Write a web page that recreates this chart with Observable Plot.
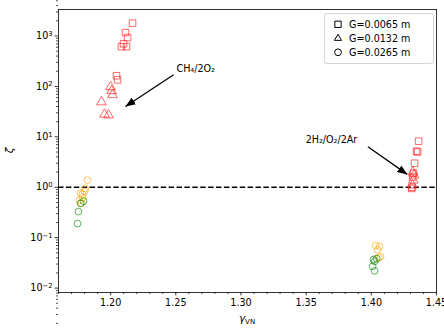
<!DOCTYPE html>
<html>
<head>
<meta charset="utf-8">
<script src="https://cdn.jsdelivr.net/npm/d3@7"></script>
<script src="https://cdn.jsdelivr.net/npm/@observablehq/plot@0.6"></script>
<style>
  body { margin: 0; background: #fff; }
  #chart { position: relative; width: 444px; height: 329px; font-family: "DejaVu Sans", sans-serif; }
  #legend {
    position: absolute; left: 324px; top: 13px; width: 110px;
    border: 1px solid #d4d4d4; border-radius: 3px; background: rgba(255,255,255,0.85);
    box-sizing: border-box; padding: 3px 0 4px 0;
    font-family: "DejaVu Sans", sans-serif; font-size: 9.6px; color: #000;
  }
  #legend .row { display: flex; align-items: center; height: 14px; }
  #legend svg { margin-left: 8px; margin-right: 6px; }
</style>
</head>
<body>
<div id="chart"></div>
<script>
// Growth rate ratio zeta against the von Neumann specific heat ratio, by gap size G.
// G = 0.0065 m (squares, red)
const sqGamma = [1.2168, 1.2114, 1.2130, 1.2099, 1.2083, 1.2122, 1.2045, 1.2053,
                 1.4363, 1.4347, 1.4355, 1.4332, 1.4324, 1.4317, 1.4309, 1.4312];
const sqZeta  = [1800, 1170, 930, 700, 615, 615, 163, 135,
                 8.2, 5.2, 5.0, 3.0, 1.9, 1.6, 0.95, 1.0];
// G = 0.0132 m (triangles, red)
const triGamma = [1.1999, 1.2007, 1.2014, 1.1930, 1.1953, 1.1984,
                  1.4319, 1.4327, 1.4322, 1.4317];
const triZeta  = [98, 82, 68, 49, 28, 27,
                  2.0, 1.73, 1.38, 1.1];
// G = 0.0265 m (circles, orange and green)
const circOrangeGamma = [1.1823, 1.1807, 1.1800, 1.1784, 1.1769, 1.1784, 1.1761, 1.1777,
                         1.4033, 1.4064, 1.4048, 1.4071, 1.4056];
const circOrangeZeta  = [1.38, 0.95, 0.83, 0.73, 0.76, 0.63, 0.55, 0.48,
                         0.070, 0.067, 0.058, 0.042, 0.040];
const circGreenGamma = [1.1792, 1.1769, 1.1753, 1.1746,
                        1.4041, 1.4017, 1.4025, 1.4010, 1.4025];
const circGreenZeta  = [0.53, 0.48, 0.33, 0.19,
                        0.0385, 0.037, 0.034, 0.027, 0.022];

// Axis ticks
const xTicks = [1.20, 1.25, 1.30, 1.35, 1.40, 1.45];
const xMinor = d3.range(116, 146).map(v => v / 100).filter(v => !xTicks.some(t => Math.abs(t - v) < 1e-9));
const yTicks = [1e-2, 1e-1, 1e0, 1e1, 1e2, 1e3];
const yMinor = [];
for (let e = -3; e <= 3; e++) for (let k = 2; k <= 9; k++) yMinor.push(k * 10 ** e);

// Annotations: label position and arrow from (x1,y1) to (x2,y2)
const notes = [
  {x: 1.2505, y: 190, text: "CH₄/2O₂", x1: 1.2483, y1: 170, x2: 1.2114, y2: 40},
  {x: 1.3496, y: 7.5, text: "2H₂/O₂/2Ar", x1: 1.3974, y1: 6.35, x2: 1.4276, y2: 1.8}
];

const legendItems = [
  {symbol: "square", label: "G=0.0065 m"},
  {symbol: "triangle", label: "G=0.0132 m"},
  {symbol: "circle", label: "G=0.0265 m"}
];

const toRows = (xs, ys) => xs.map((x, i) => ({x, y: ys[i]}));
const squares = toRows(sqGamma, sqZeta);
const triangles = toRows(triGamma, triZeta);
const orangeCircles = toRows(circOrangeGamma, circOrangeZeta);
const greenCircles = toRows(circGreenGamma, circGreenZeta);

const RED = "#ff2020", ORANGE = "#ffa500", GREEN = "#008000";

// Filled wedge head for annotation arrows
function wedge(color) {
  const m = d3.create("svg:marker")
    .attr("viewBox", "-10 -4 10 8")
    .attr("markerUnits", "userSpaceOnUse")
    .attr("markerWidth", 10).attr("markerHeight", 8)
    .attr("refX", 0).attr("refY", 0)
    .attr("orient", "auto");
  m.append("path").attr("d", "M-10,-4L0,0L-10,4Z").attr("fill", color).attr("stroke", "none");
  return m.node();
}

const expLabel = d => "10^" + String(Math.round(Math.log10(d))).replace("-", "−");

function build(markerEnd) {
  return Plot.plot({
    width: 444,
    height: 329,
    marginLeft: 58,
    marginRight: 8,
    marginTop: 9,
    marginBottom: 37,
    style: {fontFamily: "DejaVu Sans, sans-serif", fontSize: "9.6px", background: "white", color: "black"},
    x: {domain: [1.16, 1.45]},
    y: {type: "log", domain: [10 ** -2.087, 10 ** 3.526]},
    marks: [
      Plot.axisX({ticks: xMinor, tickSize: 2, strokeWidth: 0.7, tickFormat: () => "", label: null}),
      Plot.axisX({ticks: xTicks, tickSize: 3.4, tickPadding: 3.2, strokeWidth: 0.8,
                  tickFormat: d => d.toFixed(2), label: null}),
      Plot.axisY({ticks: yMinor, tickSize: 2, strokeWidth: 0.7, tickFormat: () => "", label: null}),
      Plot.axisY({ticks: yTicks, tickSize: 3.4, tickPadding: 2.5, strokeWidth: 0.8,
                  tickFormat: expLabel, label: null}),
      Plot.ruleY([1], {stroke: "black", strokeWidth: 1.4, strokeDasharray: "5.5,2.4"}),
      Plot.dot(squares, {x: "x", y: "y", symbol: "square", r: 3.7, stroke: RED, strokeOpacity: 0.75, strokeWidth: 0.9, fill: "none"}),
      Plot.dot(triangles, {x: "x", y: "y", symbol: "triangle", r: 3.6, stroke: RED, strokeOpacity: 0.75, strokeWidth: 0.9, fill: "none"}),
      Plot.dot(orangeCircles, {x: "x", y: "y", r: 3.4, stroke: ORANGE, strokeOpacity: 0.7, strokeWidth: 0.9, fill: "none"}),
      Plot.dot(greenCircles, {x: "x", y: "y", r: 3.4, stroke: GREEN, strokeOpacity: 0.7, strokeWidth: 0.9, fill: "none"}),
      Plot.link(notes, {x1: "x1", y1: "y1", x2: "x2", y2: "y2", stroke: "black", strokeWidth: 1.3, markerEnd}),
      Plot.text(notes, {x: "x", y: "y", text: "text", textAnchor: "start", lineAnchor: "bottom", fontSize: 9.6, fill: "black"}),
      Plot.frame({stroke: "black", strokeWidth: 0.8})
    ]
  });
}

let chart;
try { chart = build(wedge); } catch (e) { chart = build("arrow"); }

const svg = d3.select(chart);

// Render power-of-ten tick labels with raised exponents
svg.selectAll("text").each(function () {
  const t = d3.select(this);
  const s = t.text();
  if (/^10\^/.test(s)) {
    const exp = s.slice(3);
    t.text("10");
    t.append("tspan").attr("font-size", "6.8px").attr("dy", "-0.45em").text(exp);
  }
});

// Axis titles
const xMid = (58 + 436) / 2;
const xl = svg.append("text").attr("x", xMid).attr("y", 322).attr("text-anchor", "middle")
  .attr("font-family", "DejaVu Sans, sans-serif").attr("font-size", "10.5px").attr("fill", "black");
xl.append("tspan").attr("font-style", "italic").text("γ");
xl.append("tspan").attr("font-size", "7px").attr("dy", "0.25em").text("VN");

svg.append("text").attr("transform", `translate(13,${(9 + 292) / 2}) rotate(-90)`)
  .attr("text-anchor", "middle").attr("font-family", "DejaVu Sans, sans-serif")
  .attr("font-style", "italic").attr("font-size", "10.5px").attr("fill", "black").text("ζ");

const container = document.getElementById("chart");
container.appendChild(chart);

// Legend for gap size G
const legend = d3.select(container).append("div").attr("id", "legend");
const rows = legend.selectAll("div.row").data(legendItems).join("div").attr("class", "row");
rows.append("svg").attr("width", 10).attr("height", 10)
  .append("path")
  .attr("transform", "translate(5,5.3)")
  .attr("d", d => d3.symbol(d.symbol === "square" ? d3.symbolSquare : d.symbol === "triangle" ? d3.symbolTriangle2 : d3.symbolCircle,
                             d.symbol === "square" ? 40 : 36)())
  .attr("fill", "none").attr("stroke", "black").attr("stroke-width", 1);
rows.append("span").text(d => d.label);
</script>
</body>
</html>
